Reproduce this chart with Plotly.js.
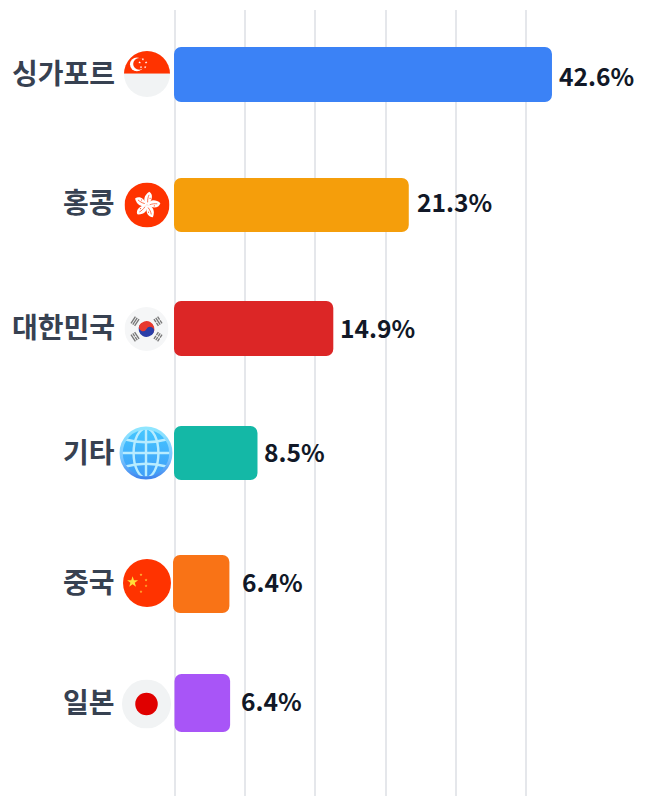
<!DOCTYPE html>
<html><head><meta charset="utf-8">
<script src="https://cdn.plot.ly/plotly-3.0.1.min.js"></script>
<style>html,body{margin:0;padding:0;background:#fff}</style>
</head><body><div id="chart" style="width:648px;height:796px"></div>
<script>
// --- data ---
const categories = ['싱가포르','홍콩','대한민국','기타','중국','일본'];
const percentLabels = ['42.6%','21.3%','14.9%','8.5%','6.4%','6.4%'];
// drawn bar ends and starts in gridline units (one gridline step = 10)
const barEnds = [53.7, 33.3, 22.55, 11.75, 7.75, 7.85];
const barStarts = [-0.14,-0.14,-0.14,-0.14,-0.28,-0.07];
const barColors = ['#3b82f6','#f59e0b','#dc2626','#14b8a6','#f97316','#a855f7'];
const gridTicks = [0,10,20,30,40,50];

// --- layout helpers (pixels in the 648x796 frame) ---
const W=648,H=796,L=160,T=10,ZERO=175;
const pxPerUnit=7.02, rowStep=125.7, row0=74.5;
const rowCenters=[74.5,205,328.5,453,584,703];
const barHeights=[55,54,55,54,58,58];
const labelCenters=[72,201,326,451,581,701];
const valueCenters=[75,201,327,451,581,700];
const valueGaps=[5,6,5,5,11,9];
const rows=categories.map((_,i)=>i);
const offsets=rows.map(i=>(rowCenters[i]-barHeights[i]/2-(row0+rowStep*i))/rowStep);
const widths=barHeights.map(h=>h/rowStep);

// --- icons ---
const star=(cx,cy,r,f)=>{let p=[];for(let k=0;k<10;k++){const a=-Math.PI/2+k*Math.PI/5,q=k%2?r*0.4:r;p.push((cx+q*Math.cos(a)).toFixed(2)+','+(cy+q*Math.sin(a)).toFixed(2));}return `<polygon points="${p.join(' ')}" fill="${f}"/>`;};
const clip=`<defs><clipPath id="c"><circle cx="50" cy="50" r="50"/></clipPath></defs>`;
const svg=b=>'data:image/svg+xml;charset=utf-8,'+encodeURIComponent(`<svg xmlns="http://www.w3.org/2000/svg" viewBox="0 0 100 100">${clip}${b}</svg>`);
const sg=svg(`<g clip-path="url(#c)"><rect width="100" height="100" fill="#f1f3f4"/><rect width="100" height="49" fill="#ff3300"/>
<circle cx="28" cy="29" r="15" fill="#fff"/><circle cx="33" cy="28" r="13" fill="#ff3300"/>
${star(41,18,3,'#fff')}${star(34,25,3,'#fff')}${star(48,25,3,'#fff')}${star(37,35,3,'#fff')}${star(46,35,3,'#fff')}</g>`);
const petal=a=>`<g transform="rotate(${a} 50 50)"><path d="M50 50 C38 44 38 30 48 20 C58 24 60 36 50 50Z" fill="#fff"/><path d="M50 44 C48 38 48 32 49 27" stroke="#ff3300" stroke-width="1.4" fill="none"/><circle cx="53" cy="34" r="1.2" fill="#ff3300"/></g>`;
const hk=svg(`<circle cx="50" cy="50" r="50" fill="#ff3300"/>${[14,86,158,230,302].map(petal).join('')}`);
const bars3=(a,gaps)=>`<g transform="rotate(${a} 50 50)" fill="#777">${[0,1,2].map(i=>gaps[i]?`<rect x="41" y="${12+i*5}" width="8" height="3"/><rect x="51" y="${12+i*5}" width="8" height="3"/>`:`<rect x="41" y="${12+i*5}" width="18" height="3"/>`).join('')}</g>`;
const kr=svg(`<circle cx="50" cy="50" r="50" fill="#f5f6f7"/>
<g transform="rotate(28 50 50)"><path d="M32 50 A18 18 0 0 1 68 50 Z" fill="#e8392f"/><path d="M32 50 A18 18 0 0 0 68 50 Z" fill="#2b3ea8"/><circle cx="41" cy="50" r="9" fill="#e8392f"/><circle cx="59" cy="50" r="9" fill="#2b3ea8"/></g>
${bars3(-56,[0,0,0])}${bars3(56,[1,0,1])}${bars3(124,[1,1,1])}${bars3(-124,[0,1,0])}`);
const globe='data:image/svg+xml;charset=utf-8,'+encodeURIComponent(`<svg xmlns="http://www.w3.org/2000/svg" viewBox="0 0 100 100"><defs><linearGradient id="r" x1="0" y1="0" x2="0" y2="1"><stop offset="0" stop-color="#8fe6ff"/><stop offset="0.6" stop-color="#7cc8ff"/><stop offset="1" stop-color="#3f86ee"/></linearGradient><linearGradient id="g" x1="0" y1="0" x2="0" y2="1"><stop offset="0" stop-color="#45c8ff"/><stop offset="1" stop-color="#3f9cf8"/></linearGradient></defs>
<circle cx="50" cy="50" r="47" fill="url(#g)"/>
<g fill="none" stroke="#b8ecff" stroke-width="4.5"><ellipse cx="50" cy="50" rx="23" ry="46"/><line x1="50" y1="4" x2="50" y2="96"/><line x1="4" y1="50" x2="96" y2="50"/><path d="M12 25 Q50 35 88 25"/><path d="M12 75 Q50 65 88 75"/></g>
<circle cx="50" cy="50" r="46" fill="none" stroke="url(#r)" stroke-width="6"/></svg>`);
const cn=svg(`<circle cx="50" cy="50" r="50" fill="#ff3300"/>${star(20,48,12,'#ffe03a')}${star(37.5,33,3.2,'#ffc83a')}${star(48,44,3.2,'#ffc83a')}${star(48,56,3.2,'#ffc83a')}${star(37.5,68,3.2,'#ffc83a')}`);
const jp=svg(`<circle cx="50" cy="50" r="50" fill="#f1f3f4"/><circle cx="50" cy="50" r="23" fill="#e00000"/>`);
const icons=[[sg,147,74,23],[hk,147,205,22.5],[kr,146.5,329,22],[globe,146,453,27],[cn,147,583,24],[jp,146.5,704,24.5]];
const images=icons.map(([source,cx,cy,r])=>({source,xref:'paper',yref:'paper',
  x:(cx-r-L)/(W-L),y:1-(cy-r-T)/(H-T),sizex:2*r/(W-L),sizey:2*r/(H-T),xanchor:'left',yanchor:'top',sizing:'stretch',layer:'above'}));

// --- annotations ---
const FONT='"Noto Sans CJK KR","Noto Sans",sans-serif';
const catAnn=categories.map((t,i)=>({text:'<b>'+t+'</b>',x:0,y:i,xref:'x',yref:'y',xanchor:'right',yanchor:'middle',
  xshift:-58,yshift:-(labelCenters[i]-(row0+rowStep*i)),showarrow:false,font:{family:FONT,size:28,color:'#374151'}}));
const valAnn=percentLabels.map((t,i)=>({text:'<b>'+t+'</b>',x:barEnds[i],y:i,xref:'x',yref:'y',xanchor:'left',yanchor:'middle',
  xshift:valueGaps[i],yshift:-(valueCenters[i]-(row0+rowStep*i)),showarrow:false,font:{family:FONT,size:24.6,color:'#111827'}}));

Plotly.newPlot('chart',[{
  type:'bar',orientation:'h',y:rows,x:rows.map(i=>barEnds[i]-barStarts[i]),base:barStarts,offset:offsets,width:widths,
  marker:{color:barColors,line:{width:0}},hoverinfo:'skip',showlegend:false
}],{
  width:W,height:H,margin:{l:L,r:0,t:T,b:0,pad:0},paper_bgcolor:'#fff',plot_bgcolor:'#fff',
  barcornerradius:7,showlegend:false,
  xaxis:{range:[(L-ZERO)/pxPerUnit,(W-ZERO)/pxPerUnit],tickmode:'array',tickvals:gridTicks,showgrid:true,gridcolor:'#e5e7eb',gridwidth:2,zeroline:false,showticklabels:false,ticks:'',showline:false,fixedrange:true},
  yaxis:{range:[(H-row0)/rowStep,-(row0-T)/rowStep],showgrid:false,zeroline:false,showticklabels:false,ticks:'',showline:false,fixedrange:true},
  annotations:catAnn.concat(valAnn),images
},{displayModeBar:false,staticPlot:true});
</script></body></html>
